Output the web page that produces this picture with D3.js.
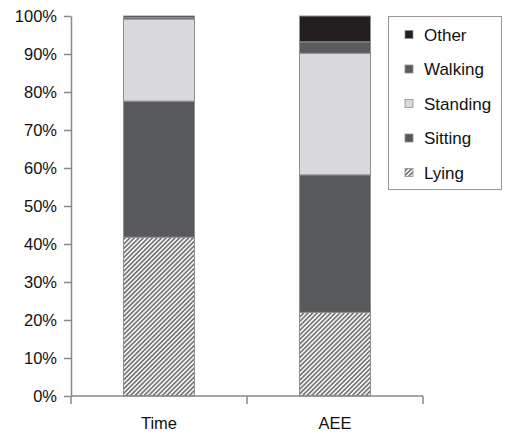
<!DOCTYPE html>
<html><head><meta charset="utf-8">
<script src="https://cdnjs.cloudflare.com/ajax/libs/d3/7.8.5/d3.min.js"></script>
<style>body{margin:0;background:#fff}svg{display:block;font-family:"Liberation Sans",Arial,sans-serif}</style>
</head><body><svg id="c" width="505" height="434"></svg>
<script>
const categories = ["Time", "AEE"];
const activities = ["Lying", "Sitting", "Standing", "Walking", "Other"];
const lying = [41.8, 22.0];
const sitting = [35.8, 36.2];
const standing = [21.6, 32.0];
const walking = [0.4, 3.0];
const other = [0.4, 6.8];
const yTicks = [0, 10, 20, 30, 40, 50, 60, 70, 80, 90, 100];

const seriesVals = {Lying: lying, Sitting: sitting, Standing: standing, Walking: walking, Other: other};
const colors = {Lying: "url(#hatch)", Sitting: "#58595b", Standing: "#d9d9db", Walking: "#5a5b5d", Other: "#231f20"};

const svg = d3.select("#c");
const defs = svg.append("defs");
const pat = defs.append("pattern").attr("id", "hatch").attr("patternUnits", "userSpaceOnUse")
  .attr("width", 3.2).attr("height", 3.2).attr("patternTransform", "rotate(45)");
pat.append("rect").attr("width", 3.2).attr("height", 3.2).attr("fill", "#f2f2f2");
pat.append("rect").attr("width", 1.6).attr("height", 3.2).attr("fill", "#767676");

const x0 = 71, x1 = 423, yTop = 16, yBot = 396;
const x = d3.scaleBand().domain(categories).range([x0, x1]).paddingInner(0).paddingOuter(0);
const y = d3.scaleLinear().domain([0, 100]).range([yBot, yTop]);

const rows = categories.map((c, i) => { const o = {cat: c}; activities.forEach(a => o[a] = seriesVals[a][i]); return o; });
const stacked = d3.stack().keys(activities)(rows);

const barW = 71;
const g = svg.append("g");
stacked.forEach(s => {
  g.selectAll(null).data(s).enter().append("rect")
    .attr("x", d => x(d.data.cat) + x.bandwidth() / 2 - barW / 2)
    .attr("y", d => y(d[1]))
    .attr("width", barW)
    .attr("height", d => y(d[0]) - y(d[1]))
    .attr("fill", colors[s.key])
    .attr("stroke", "#8f8f8f").attr("stroke-width", 1);
});

// Y axis
const yAxis = d3.axisLeft(y).tickValues(yTicks).tickFormat(d => d + "%").tickSize(7).tickSizeOuter(0).tickPadding(7);
const ya = svg.append("g").attr("transform", `translate(${x0},0)`).call(yAxis);
ya.selectAll("text").attr("font-size", 16.5).attr("fill", "#111");
ya.selectAll("line, path").attr("stroke", "#888").attr("stroke-width", 1.5);

// X axis
const xAxis = d3.axisBottom(x).tickSize(0).tickPadding(21);
const xa = svg.append("g").attr("transform", `translate(0,${yBot})`).call(xAxis);
xa.select("path").attr("stroke", "#888").attr("stroke-width", 1.5).attr("d", `M${x0},0H${x1}`);
xa.selectAll("text").attr("font-size", 16.5).attr("fill", "#111");
[x0, x0 + x.bandwidth(), x1].forEach(v => xa.append("line").attr("x1", v).attr("x2", v).attr("y1", 0).attr("y2", 8).attr("stroke", "#888").attr("stroke-width", 1.5));

// Legend
const lg = svg.append("g");
lg.append("rect").attr("x", 388.5).attr("y", 16.5).attr("width", 113).attr("height", 173)
  .attr("fill", "#fff").attr("stroke", "#999").attr("stroke-width", 1);
const legOrder = ["Other", "Walking", "Standing", "Sitting", "Lying"];
legOrder.forEach((k, i) => {
  const cy = 34.5 + i * 34.5;
  lg.append("rect").attr("x", 405).attr("y", cy - 4).attr("width", 8).attr("height", 8)
    .attr("fill", colors[k]).attr("stroke", "#8f8f8f").attr("stroke-width", 0.8);
  lg.append("text").attr("x", 424).attr("y", cy + 6).attr("font-size", 17).attr("fill", "#111").text(k);
});
</script></body></html>
